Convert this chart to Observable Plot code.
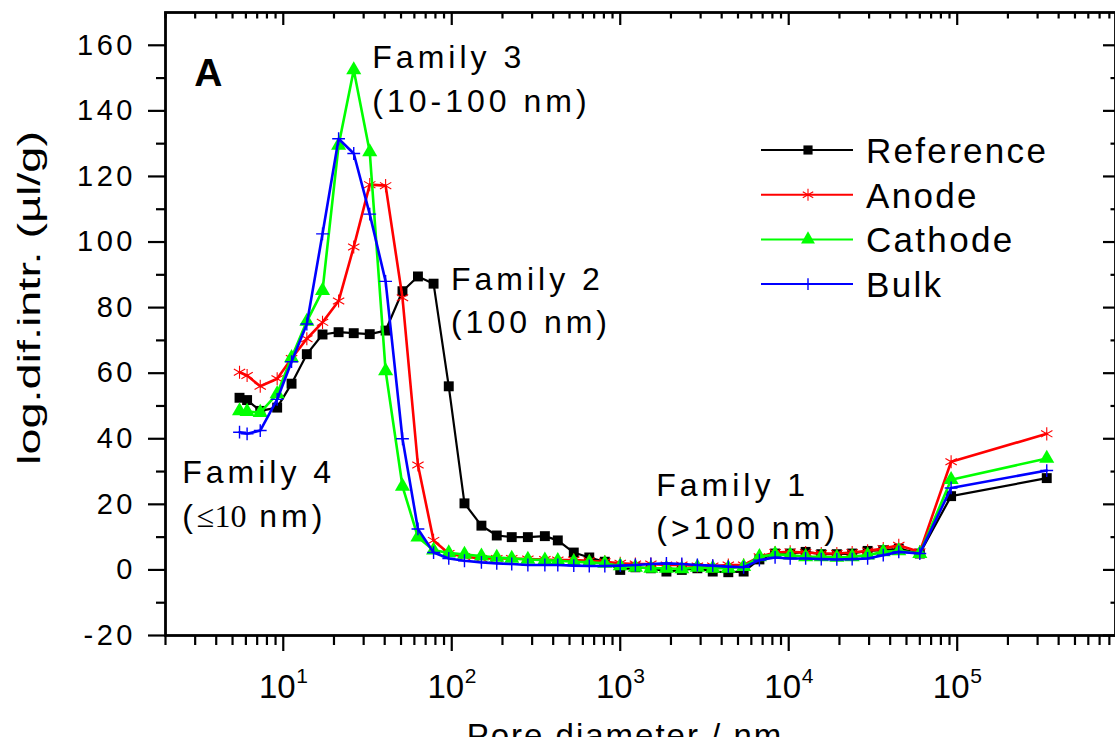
<!DOCTYPE html>
<html><head><meta charset="utf-8">
<script src="https://cdn.jsdelivr.net/npm/d3@7"></script>
<script src="https://cdn.jsdelivr.net/npm/@observablehq/plot@0.6"></script>
<style>
html,body{margin:0;padding:0;overflow:hidden;background:#fff;}
#chart{position:relative;width:1115px;height:737px;overflow:hidden}
#chart svg{overflow:visible}
.ylab{letter-spacing:3.5px}
</style></head><body><div id="chart"></div>
<script>
// ---- data ----
const diameters = [5.5, 6.1, 7.3, 9.2, 11.2, 13.8, 17.1, 21.3, 26.2, 32.6, 40.5, 51, 63, 78, 96, 119, 150, 185, 227, 283, 357, 426, 530, 655, 810, 1000, 1230, 1520, 1880, 2320, 2870, 3540, 4380, 5400, 6700, 8300, 10200, 12600, 15600, 19300, 23800, 29400, 36400, 45000, 60000, 92000, 340000];
const reference = [52.5, 51.8, 48.5, 49.5, 56.8, 65.8, 71.8, 72.5, 72.2, 71.9, 73, 85, 89.5, 87.3, 56, 20.3, 13.5, 10.5, 10, 10, 10.3, 9, 5.3, 3.8, 2.5, 0, 0.8, 0.5, -0.5, 0, 0.5, -0.5, -0.7, -0.5, 3.2, 5, 5, 5.5, 4.8, 4.8, 5, 5.8, 6, 6.5, 5, 22.5, 28];
const anode = [60.3, 59.3, 56, 58.3, 64.5, 70.5, 75.5, 82, 98.5, 117.5, 117.2, 83, 32, 9, 5, 4, 3.5, 3.5, 3.5, 3.3, 3.2, 3, 3, 2.8, 2.5, 2, 1.8, 1.8, 1.5, 1.5, 1.2, 1.2, 1.5, 1.5, 4, 5.3, 5.5, 5.3, 5, 5, 5.3, 5.8, 6.5, 7.5, 5.5, 33, 41.5];
const cathode = [48.5, 48.3, 48, 53.7, 64.7, 75.8, 85.2, 129.5, 152.5, 127.5, 60.7, 25.5, 10, 6, 5.2, 4.7, 4.2, 3.8, 3.5, 3.2, 3, 2.8, 2.5, 2.3, 2, 1.2, 0.8, 0.5, 0.5, 0.3, 0.8, 0.5, 0.5, 1, 4, 4.8, 4.5, 4, 4, 3.8, 4, 4.5, 5.5, 5.8, 5, 27.5, 34];
const bulk = [42, 41.5, 42.5, 52, 63.5, 75, 102.5, 131.5, 127, 108.5, 88, 40, 12.5, 5.3, 3.5, 2.8, 2.3, 2, 1.8, 1.5, 1.5, 1.5, 1.3, 1.2, 1.2, 1.3, 1.5, 1.8, 2, 1.8, 1.5, 1.3, 1, 0.8, 3, 3.8, 3.5, 3.5, 3.3, 3.2, 3.3, 3.5, 4.5, 5.5, 5, 25, 30.3];
const seriesNames = ["Reference", "Anode", "Cathode", "Bulk"];
const xMajorTicks = [10, 100, 1000, 10000, 100000];
const xTickBase = ["10", "10", "10", "10", "10"];
const xTickExponents = ["1", "2", "3", "4", "5"];
const yMajorTicks = [-20, 0, 20, 40, 60, 80, 100, 120, 140, 160];
const yMinorTicks = [-10, 10, 30, 50, 70, 90, 110, 130, 150];
const yLabel = "log.dif.intr. (\u00b5l/g)";
const xLabel = "Pore diameter / nm";

// ---- styles ----
const seriesValues = [reference, anode, cathode, bulk];
const seriesStyle = [
  {color: "#000000", symbol: "square",   r: 5.6, filled: true,  lw: 2.2, sw: 0},
  {color: "#ff0000", symbol: "asterisk", r: 6.2, filled: false, lw: 2.6, sw: 1.1},
  {color: "#00ff00", symbol: "triangle", r: 5.6, filled: true,  lw: 2.6, sw: 0},
  {color: "#0000ff", symbol: "plus",     r: 4.2, filled: false, lw: 2.6, sw: 1.4}
];
const xMinorTicks = [];
for (let e = 0; e <= 5; e++) for (let m = 2; m <= 9; m++) { const v = m * Math.pow(10, e); if (v >= 2 && v <= 8.7e5) xMinorTicks.push(v); }

const W = 1115, H = 737, mL = 165, mR = 0, mT = 12, mB = 102;
const pW = W - mL - mR, pH = H - mT - mB;
const FONT = "'Liberation Sans', Arial, Helvetica, sans-serif";

const rows = [];
seriesNames.forEach((name, si) => diameters.forEach((d, i) => rows.push({series: name, d, v: seriesValues[si][i]})));

const marks = [];
// ticks
marks.push(Plot.tickX(xMajorTicks, {x: d => d, insetTop: pH, insetBottom: -16, strokeWidth: 2.2}));
marks.push(Plot.tickX(xMinorTicks, {x: d => d, insetTop: pH, insetBottom: -10, strokeWidth: 2.2}));
marks.push(Plot.tickX(xMajorTicks, {x: d => d, insetBottom: pH - 13, strokeWidth: 2.2}));
marks.push(Plot.tickX(xMinorTicks, {x: d => d, insetBottom: pH - 6.5, strokeWidth: 2.2}));
marks.push(Plot.tickY(yMajorTicks, {y: d => d, insetRight: pW, insetLeft: -17, strokeWidth: 2.2}));
marks.push(Plot.tickY(yMinorTicks, {y: d => d, insetRight: pW, insetLeft: -9, strokeWidth: 2.2}));
marks.push(Plot.tickY(yMajorTicks, {y: d => d, insetLeft: pW - 12, strokeWidth: 2.2}));
marks.push(Plot.tickY(yMinorTicks, {y: d => d, insetLeft: pW - 4.5, strokeWidth: 2.2}));
// tick labels
marks.push(Plot.text(yMajorTicks, {y: d => d, text: d => String(d), frameAnchor: "left", textAnchor: "end", dx: -29.5, fontSize: 29, className: "ylab"}));
marks.push(Plot.text(xMajorTicks, {x: d => d, text: (d, i) => xTickBase[i], frameAnchor: "bottom", lineAnchor: "bottom", dy: 62, dx: -6, fontSize: 33}));
marks.push(Plot.text(xMajorTicks, {x: d => d, text: (d, i) => xTickExponents[i], frameAnchor: "bottom", lineAnchor: "bottom", dy: 47, dx: 13, textAnchor: "start", fontSize: 21}));
// series
seriesNames.forEach((name, si) => {
  const st = seriesStyle[si];
  const data = rows.filter(r => r.series === name);
  marks.push(Plot.line(data, {x: "d", y: "v", stroke: st.color, strokeWidth: st.lw, curve: "linear"}));
  marks.push(Plot.dot(data, {x: "d", y: "v", symbol: st.symbol, r: st.r,
    fill: st.filled ? st.color : "none", stroke: st.filled ? "none" : st.color, strokeWidth: st.sw}));
});
marks.push(Plot.frame({stroke: "#000", strokeWidth: 2.8}));

const plot = Plot.plot({
  width: W, height: H,
  marginLeft: mL, marginRight: mR, marginTop: mT, marginBottom: mB,
  style: {fontFamily: FONT, background: "#fff", color: "#000"},
  x: {type: "log", domain: [2, 8.7e5], axis: null},
  y: {domain: [-20, 170], axis: null},
  marks
});
document.getElementById("chart").appendChild(plot);

// ---- annotations (data coordinates, placed through the plot's scales) ----
const sx = plot.scale("x"), sy = plot.scale("y");
const svg = d3.select(plot);
const SERIF = "'Liberation Serif', 'Times New Roman', serif";
const annotations = [
  {x: 34, y: 153.0, parts: [["Family 3", FONT]]},
  {x: 34, y: 139.6, parts: [["(10-100 nm)", FONT]]},
  {x: 99.6, y: 85.3, parts: [["Family 2", FONT]]},
  {x: 99.6, y: 72.1, parts: [["(100 nm)", FONT]]},
  {x: 2.53, y: 26.4, parts: [["Family 4", FONT]]},
  {x: 2.53, y: 12.9, parts: [["(", FONT], ["\u226410", SERIF], [" nm)", FONT]]},
  {x: 1647, y: 22.4, parts: [["Family 1", FONT]]},
  {x: 1647, y: 9.3, parts: [["(>100 nm)", FONT]]}
];
const ann = svg.append("g").attr("text-anchor", "start");
annotations.forEach(a => {
  const t = ann.append("text").attr("x", sx.apply(a.x)).attr("y", sy.apply(a.y))
    .attr("font-size", 32).attr("fill", "#000").attr("text-anchor", "start");
  a.parts.forEach(([s, f]) => {
    t.append("tspan").attr("font-family", f).style("letter-spacing", f === FONT ? "4px" : "0px").text(s);
  });
});
ann.append("text").attr("x", sx.apply(2.985)).attr("y", sy.apply(147.5)).attr("text-anchor", "start")
  .attr("font-family", FONT).attr("font-size", 39).attr("font-weight", "bold").text("A");

// axis titles
svg.append("text").attr("transform", `translate(40,298) rotate(-90)`)
  .attr("text-anchor", "middle").attr("font-family", FONT).attr("font-size", 32)
  .attr("textLength", 334).attr("lengthAdjust", "spacingAndGlyphs").text(yLabel);
svg.append("text").attr("x", 625).attr("y", 747).attr("text-anchor", "middle")
  .attr("font-family", FONT).attr("font-size", 33).style("letter-spacing", "2px").text(xLabel);

// ---- legend ----
const legend = svg.append("g").attr("text-anchor", "start");
seriesNames.forEach((name, i) => {
  const st = seriesStyle[i];
  const y = 150 + i * 44.7;
  legend.append("line").attr("x1", 761).attr("x2", 853).attr("y1", y).attr("y2", y)
    .attr("stroke", st.color).attr("stroke-width", 2);
  const symType = {square: d3.symbolSquare, asterisk: d3.symbolAsterisk, triangle: d3.symbolTriangle, plus: d3.symbolPlus}[st.symbol];
  const size = Math.PI * st.r * st.r * 0.85;
  legend.append("path").attr("d", d3.symbol(symType, size)()).attr("transform", `translate(808,${y})`)
    .attr("fill", st.filled ? st.color : "none").attr("stroke", st.filled ? "none" : st.color).attr("stroke-width", st.sw || 0);
  legend.append("text").attr("x", 866).attr("y", y + 13).attr("font-family", FONT).attr("font-size", 35)
    .attr("text-anchor", "start").style("letter-spacing", "2.3px").text(name);
});
</script>
</body></html>
